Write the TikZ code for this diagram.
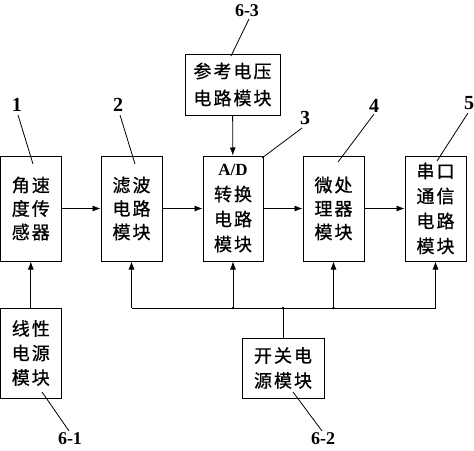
\documentclass[tikz,border=0pt]{standalone}
\usepackage{fontspec}
\setmainfont{Liberation Serif}
\newfontfamily\cjkfont[FakeBold=0.8]{Noto Sans CJK SC}
\usetikzlibrary{arrows.meta}
\newcommand\gp{\hspace{2pt}}
\begin{document}
\begin{tikzpicture}[x=1pt,y=-1pt,
  blk/.style={draw, line width=1pt, inner sep=0pt, align=center,
    font=\cjkfont\fontsize{18}{23.5}\selectfont},
  blkf/.style={blk, font=\cjkfont\fontsize{18}{25}\selectfont},
  lbl/.style={font=\bfseries\fontsize{20}{20}\selectfont, inner sep=0pt},
  lblb/.style={lbl, font=\bfseries\fontsize{18}{18}\selectfont},
  arr/.style={line width=0.8pt, -{Latex[length=8pt,width=6pt]}},
  ln/.style={line width=0.8pt},
  dot/.style={circle, fill, inner sep=0pt, minimum size=2.8pt}]
\useasboundingbox (0,0) rectangle (474,450);
% main row
\node[blk, minimum width=60.4pt, minimum height=105pt] (b1) at (30.8,208.5) {角\gp 速\\度\gp 传\\感\gp 器};
\node[blk, minimum width=61pt, minimum height=105pt] (b2) at (131.5,208.5) {滤\gp 波\\电\gp 路\\模\gp 块};
\node[blkf, minimum width=60pt, minimum height=105pt] (b3) at (233,208.5) {{\rmfamily\bfseries\fontsize{17}{17}\selectfont A/D}\\转\gp 换\\电\gp 路\\模\gp 块};
\node[blk, minimum width=61pt, minimum height=105pt] (b4) at (333.5,208.5) {微\gp 处\\理\gp 器\\模\gp 块};
\node[blkf, minimum width=61pt, minimum height=105pt] (b5) at (435.5,208.5) {串\gp 口\\通\gp 信\\电\gp 路\\模\gp 块};
% reference, power
\node[blk, font=\cjkfont\fontsize{18}{27}\selectfont, minimum width=95pt, minimum height=61pt] (ref) at (232.5,84.5) {参\gp 考\gp 电\gp 压\\电\gp 路\gp 模\gp 块};
\node[blk, font=\cjkfont\fontsize{18}{24.5}\selectfont, minimum width=60.4pt, minimum height=90pt] (p1) at (30.8,353) {线\gp 性\\电\gp 源\\模\gp 块};
\node[blk, font=\cjkfont\fontsize{18}{25}\selectfont, minimum width=82pt, minimum height=60pt] (p2) at (283,368) {开\gp 关\gp 电\\源\gp 模\gp 块};
% signal arrows
\draw[arr] (b1) -- (b2);
\draw[arr] (b2) -- (b3);
\draw[arr] (b3) -- (b4);
\draw[arr] (b4) -- (b5);
\draw[arr] (ref) -- (b3);
\draw[arr] (p1) -- (b1);
% power bus
\coordinate (bus) at (283,308);
\draw[ln] (p2.north) -- (bus);
\draw[ln] (b2.south |- bus) -- (b5.south |- bus);
\foreach \b in {b2,b3,b4,b5} \draw[arr] (\b.south |- bus) -- (\b.south);
\node[dot] (d1) at (b3.south |- bus) {};
\node[dot] (d2) at (bus) {};
\node[dot] (d3) at (b4.south |- bus) {};
% labels
\node[lbl] (l1) at (17,105) {1};
\node[lbl] (l2) at (118,105) {2};
\node[lbl] (l3) at (305,118) {3};
\node[lbl] (l4) at (374,106) {4};
\node[lbl] (l5) at (469,103) {5};
\node[lblb] (l63) at (247,11) {6-3};
\node[lblb] (l61) at (70,439) {6-1};
\node[lblb] (l62) at (323,439) {6-2};
\coordinate (t1) at (33,164);
\coordinate (t2) at (135,164);
\coordinate (t3) at (262,158);
\coordinate (t4) at (338,162);
\coordinate (t5) at (437,161);
\coordinate (t63) at (231,56);
\coordinate (t61) at (42,392);
\coordinate (t62) at (293,392);
\draw[ln] (18,115) -- (t1);
\draw[ln] (120,115) -- (t2);
\draw[ln] (302,128) -- (t3);
\draw[ln] (374,114) -- (t4);
\draw[ln] (468,113) -- (t5);
\draw[ln] (249,19) -- (t63);
\draw[ln] (69,431) -- (t61);
\draw[ln] (322,431) -- (t62);
\end{tikzpicture}
\end{document}
